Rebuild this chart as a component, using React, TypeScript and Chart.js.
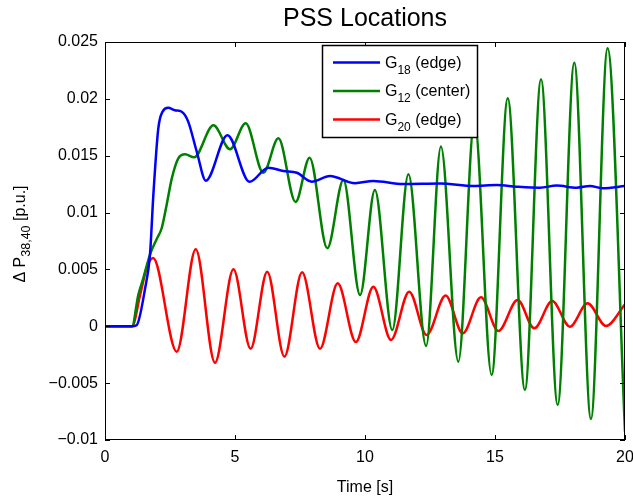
import React, { useEffect, useRef } from "react";
import { Chart, registerables } from "chart.js";

Chart.register(...registerables);

const title = "PSS Locations";
const xTitle = "Time [s]";
const xTicks = [0, 5, 10, 15, 20];
const yTicks = [-0.01, -0.005, 0, 0.005, 0.01, 0.015, 0.02, 0.025];
const yTickLabels = ["\u22120.01", "\u22120.005", "0", "0.005", "0.01", "0.015", "0.02", "0.025"];

const blueT = [0, 1.08, 1.22, 1.54, 1.73, 1.86, 2.05, 2.22, 2.43, 2.69, 2.95, 3.2, 3.53, 3.88, 4.71, 5.56, 6.28, 6.86, 7.38, 7.95, 8.65, 9.62, 10.32, 11.47, 12.9, 14.17, 15.07, 15.83, 16.73, 17.37, 18.14, 18.65, 19.15, 20];
const blueV = [0, 0, 0.0001, 0.0033, 0.0063, 0.01155, 0.0174, 0.0189, 0.01922, 0.019, 0.01887, 0.018, 0.01535, 0.0128, 0.0168, 0.0127, 0.01395, 0.01366, 0.0135, 0.01272, 0.01322, 0.01258, 0.01278, 0.01251, 0.01255, 0.01234, 0.01242, 0.01228, 0.01219, 0.01237, 0.01219, 0.01234, 0.01214, 0.01234];

const greenT = [0, 1.04, 1.28, 1.47, 1.73, 1.99, 2.18, 2.37, 2.57, 2.82, 3.08, 3.43, 4.17, 4.81, 5.41, 6.09, 6.67, 7.33, 7.87, 8.55, 9.17, 9.81, 10.38, 11.05, 11.67, 12.35, 12.92, 13.59, 14.21, 14.87, 15.49, 16.15, 16.77, 17.41, 18.05, 18.69, 19.33, 20];
const greenV = [0, 0, 0.00275, 0.0042, 0.0063, 0.00768, 0.00862, 0.01067, 0.01301, 0.01477, 0.01512, 0.01486, 0.01767, 0.01557, 0.01785, 0.0135, 0.01653, 0.01093, 0.01483, 0.00686, 0.01287, 0.00275, 0.01199, -0.00033, 0.01337, -0.00173, 0.0158, -0.00311, 0.0181, -0.00428, 0.02005, -0.0056, 0.02172, -0.00692, 0.02318, -0.00815, 0.02445, -0.00927];

const redT = [0, 1.04, 1.35, 1.6, 1.85, 2.76, 3.49, 4.23, 4.94, 5.6, 6.24, 6.9, 7.58, 8.27, 8.95, 9.65, 10.32, 11.0, 11.7, 12.37, 13.1, 13.76, 14.46, 15.13, 15.87, 16.51, 17.2, 17.88, 18.56, 19.27, 20];
const redV = [0, 0, 0.00275, 0.0051, 0.006, -0.00223, 0.00677, -0.0032, 0.00501, -0.00197, 0.0048, -0.00267, 0.00475, -0.00197, 0.00378, -0.00138, 0.00348, -0.0012, 0.00304, -0.00077, 0.0027, -0.00062, 0.00255, -0.00041, 0.00231, -0.00018, 0.00222, -0.00003, 0.00202, 0.00003, 0.00193];

const seriesNames = ["G", "G", "G"];
const seriesSubs = ["18", "12", "20"];
const seriesSuffix = [" (edge)", " (center)", " (edge)"];
const seriesColors = ["#0000ff", "#008000", "#ff0000"];

const FONT = "'Liberation Sans', Arial, Helvetica, sans-serif";

function toPoints(t: number[], v: number[]) {
  return t.map((x, i) => ({ x, y: v[i] }));
}

function drawSubText(ctx: CanvasRenderingContext2D, x: number, y: number, parts: [string, boolean][], size: number, subSize: number, subDrop: number) {
  let cx = x;
  for (const [txt, sub] of parts) {
    ctx.font = `${sub ? subSize : size}px ${FONT}`;
    ctx.fillText(txt, cx, sub ? y + subDrop : y);
    cx += ctx.measureText(txt).width;
  }
  return cx - x;
}

function measureSubText(ctx: CanvasRenderingContext2D, parts: [string, boolean][], size: number, subSize: number) {
  let w = 0;
  for (const [txt, sub] of parts) {
    ctx.font = `${sub ? subSize : size}px ${FONT}`;
    w += ctx.measureText(txt).width;
  }
  return w;
}

const overlay = {
  id: "overlay",
  afterDraw(chart: any) {
    const { ctx, chartArea: a, scales } = chart;
    const xs = scales.x;
    const ys = scales.y;
    ctx.save();
    ctx.strokeStyle = "#000";
    ctx.lineWidth = 1;
    ctx.strokeRect(a.left + 0.5, a.top + 0.5, a.right - a.left - 1, a.bottom - a.top - 1);
    ctx.beginPath();
    const tl = 5;
    xTicks.forEach((v) => {
      const px = Math.round(xs.getPixelForValue(v)) + 0.5;
      ctx.moveTo(px, a.bottom);
      ctx.lineTo(px, a.bottom - tl);
      ctx.moveTo(px, a.top);
      ctx.lineTo(px, a.top + tl);
    });
    yTicks.forEach((v) => {
      const py = Math.round(ys.getPixelForValue(v)) + 0.5;
      ctx.moveTo(a.left, py);
      ctx.lineTo(a.left + tl, py);
      ctx.moveTo(a.right, py);
      ctx.lineTo(a.right - tl, py);
    });
    ctx.stroke();

    // Title
    ctx.fillStyle = "#000";
    ctx.textAlign = "center";
    ctx.textBaseline = "alphabetic";
    ctx.font = `25px ${FONT}`;
    ctx.fillText(title, (a.left + a.right) / 2, 26);

    // X title
    ctx.font = `16px ${FONT}`;
    ctx.fillText(xTitle, (a.left + a.right) / 2, 492);

    // Y title with subscript
    ctx.textAlign = "left";
    const yParts: [string, boolean][] = [["\u0394 P", false], ["38,40", true], [" [p.u.]", false]];
    const yw = measureSubText(ctx, yParts, 16, 12.5);
    ctx.save();
    ctx.translate(25, 234);
    ctx.rotate(-Math.PI / 2);
    drawSubText(ctx, -yw / 2, 0, yParts, 16, 12.5, 5);
    ctx.restore();

    // Legend
    const lx = 322, ly = 45, lw = 155, lh = 92;
    ctx.fillStyle = "#fff";
    ctx.fillRect(lx, ly, lw, lh);
    ctx.strokeStyle = "#000";
    ctx.lineWidth = 1.5;
    ctx.strokeRect(lx + 0.5, ly + 0.5, lw, lh);
    const rows = [62.5, 91, 119.5];
    rows.forEach((ry, i) => {
      ctx.strokeStyle = seriesColors[i];
      ctx.lineWidth = 2.5;
      ctx.beginPath();
      ctx.moveTo(333, ry);
      ctx.lineTo(380, ry);
      ctx.stroke();
      ctx.fillStyle = "#000";
      ctx.textBaseline = "alphabetic";
      drawSubText(ctx, 385, ry + 5, [[seriesNames[i], false], [seriesSubs[i], true], [seriesSuffix[i], false]], 16, 12, 6);
    });
    ctx.restore();
  },
};

export default function App() {
  const ref = useRef<HTMLCanvasElement | null>(null);
  useEffect(() => {
    document.body.style.margin = "0";
    const canvas = ref.current!;
    Chart.defaults.font.family = FONT;
    const chart = new Chart(canvas, {
      type: "line",
      data: {
        datasets: [
          { label: "G18 (edge)", data: toPoints(blueT, blueV), borderColor: seriesColors[0] },
          { label: "G12 (center)", data: toPoints(greenT, greenV), borderColor: seriesColors[1] },
          { label: "G20 (edge)", data: toPoints(redT, redV), borderColor: seriesColors[2] },
        ].map((d) => ({
          ...d,
          borderWidth: 2.5,
          pointRadius: 0,
          fill: false,
          cubicInterpolationMode: "monotone" as const,
        })),
      },
      options: {
        animation: false,
        responsive: false,
        devicePixelRatio: 1,
        layout: { padding: { top: 42, right: 8, left: 0, bottom: 0 } },
        plugins: { legend: { display: false }, title: { display: false }, tooltip: { enabled: false } },
        scales: {
          x: {
            type: "linear",
            min: 0,
            max: 20,
            afterBuildTicks: (s: any) => {
              s.ticks = xTicks.map((v) => ({ value: v }));
            },
            afterFit: (s: any) => {
              s.height = 56;
              s.paddingLeft = 0;
              s.paddingRight = 0;
              s.paddingTop = 0;
              s.paddingBottom = 0;
            },
            grid: { display: false, drawTicks: false },
            border: { display: false },
            ticks: { color: "#000", font: { size: 16 }, padding: 8, autoSkip: false, maxRotation: 0, callback: (v: any) => String(v) },
          },
          y: {
            type: "linear",
            min: -0.01,
            max: 0.025,
            afterBuildTicks: (s: any) => {
              s.ticks = yTicks.map((v) => ({ value: v }));
            },
            afterFit: (s: any) => {
              s.width = 105;
              s.paddingLeft = 0;
              s.paddingRight = 0;
              s.paddingTop = 0;
              s.paddingBottom = 0;
            },
            grid: { display: false, drawTicks: false },
            border: { display: false },
            ticks: {
              color: "#000",
              font: { size: 16 },
              padding: 7,
              autoSkip: false,
              callback: (v: any, i: number) => yTickLabels[i],
            },
          },
        },
      },
      plugins: [overlay],
    });
    return () => chart.destroy();
  }, []);
  return <canvas ref={ref} width={633} height={496} style={{ display: "block" }} />;
}
